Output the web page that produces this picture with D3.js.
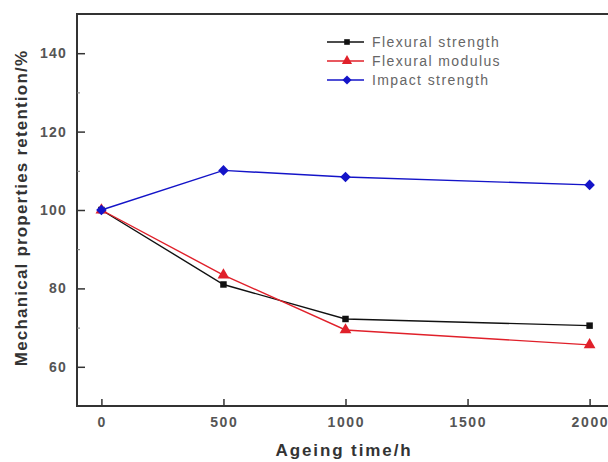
<!DOCTYPE html>
<html><head><meta charset="utf-8">
<script src="https://cdn.jsdelivr.net/npm/d3@7"></script>
<style>body{margin:0;background:#fff}svg{display:block}</style>
</head><body><svg id="c" width="608" height="462"></svg>
<script>
const hours = [0, 500, 1000, 2000];
const flexStrength = [100, 81.0, 72.2, 70.5];
const flexModulus = [100, 83.4, 69.4, 65.6];
const impactStrength = [100, 110.1, 108.4, 106.4];
const seriesNames = ["Flexural strength", "Flexural modulus", "Impact strength"];
const xTicks = [0, 500, 1000, 1500, 2000];
const yTicks = [60, 80, 100, 120, 140];
const yMinor = [70, 90, 110, 130];

const svg = d3.select("#c");
const pL = 77, pT = 14, pB = 406, pR = 614;
const x = d3.scaleLinear().domain([-100, 2100]).range([pL, pR]);
const y = d3.scaleLinear().domain([50, 150]).range([pB, pT]);
const axisCol = "#333";
const font = "Liberation Sans, Arial, sans-serif";

// frame
svg.append("path").attr("d", `M${pR},${pT}H${pL}V${pB}H${pR}`)
  .attr("fill","none").attr("stroke",axisCol).attr("stroke-width",2);

// y ticks
const gy = svg.append("g").attr("transform",`translate(${pL},0)`)
  .call(d3.axisRight(y).tickValues(yTicks).tickSize(8).tickFormat(""));
gy.select(".domain").remove();
gy.selectAll("line").attr("stroke",axisCol).attr("stroke-width",1.5);
const gym = svg.append("g").attr("transform",`translate(${pL},0)`)
  .call(d3.axisRight(y).tickValues(yMinor).tickSize(3).tickFormat(""));
gym.select(".domain").remove();
gym.selectAll("line").attr("stroke","#777").attr("stroke-width",1);
svg.append("g").selectAll("text").data(yTicks).join("text")
  .attr("x", 67).attr("y", d => y(d)).attr("dy","0.36em")
  .attr("text-anchor","end").attr("font-family",font).attr("font-size",14)
  .attr("font-weight","bold").attr("fill","#555").attr("letter-spacing",1.2).text(d=>d);

// x ticks
const gx = svg.append("g").attr("transform",`translate(0,${pB})`)
  .call(d3.axisTop(x).tickValues(xTicks).tickSize(7).tickFormat(""));
gx.select(".domain").remove();
gx.selectAll("line").attr("stroke",axisCol).attr("stroke-width",1.5);
svg.append("g").selectAll("text").data(xTicks).join("text")
  .attr("x", d => x(d)+0.8).attr("y", 427)
  .attr("text-anchor","middle").attr("font-family",font).attr("font-size",14)
  .attr("font-weight","bold").attr("fill","#555").attr("letter-spacing",1.6).text(d=>d);

// axis titles
svg.append("text").attr("x", 344).attr("y", 456).attr("text-anchor","middle")
  .attr("font-family",font).attr("font-size",17).attr("font-weight","bold")
  .attr("fill","#333").attr("letter-spacing",1.9).text("Ageing time/h");
svg.append("text").attr("transform","translate(27,208) rotate(-90)").attr("text-anchor","middle")
  .attr("font-family",font).attr("font-size",17).attr("font-weight","bold")
  .attr("fill","#333").attr("letter-spacing",1.2).text("Mechanical properties retention/%");

const diamond = { draw(ctx, size) { const r = Math.sqrt(size/2); ctx.moveTo(0,-r); ctx.lineTo(r,0); ctx.lineTo(0,r); ctx.lineTo(-r,0); ctx.closePath(); } };
const series = [
  {name: seriesNames[0], vals: flexStrength, color: "#111", sym: d3.symbolSquare, size: 42},
  {name: seriesNames[1], vals: flexModulus, color: "#e0202a", sym: d3.symbolTriangle, size: 60},
  {name: seriesNames[2], vals: impactStrength, color: "#1414c8", sym: diamond, size: 56}
];
const line = d3.line().x((d,i)=>x(hours[i])).y(d=>y(d));
series.forEach(s => {
  svg.append("path").datum(s.vals).attr("d", line).attr("fill","none")
    .attr("stroke", s.color).attr("stroke-width", 1.4);
  svg.append("g").selectAll("path").data(s.vals).join("path")
    .attr("d", d3.symbol(s.sym, s.size))
    .attr("transform", (d,i)=>`translate(${x(hours[i])},${y(d)})`)
    .attr("fill", s.color);
});

// legend
const lg = svg.append("g");
series.forEach((s,i) => {
  const ly = 42 + i*19;
  lg.append("line").attr("x1",327).attr("x2",364).attr("y1",ly).attr("y2",ly)
    .attr("stroke",s.color).attr("stroke-width",1.4);
  lg.append("path").attr("d", d3.symbol(s.sym, s.size*0.75)).attr("transform",`translate(347,${ly})`).attr("fill",s.color);
  lg.append("text").attr("x",372).attr("y",ly).attr("dy","0.36em")
    .attr("font-family",font).attr("font-size",14).attr("fill","#666")
    .attr("letter-spacing",1.4).text(s.name);
});
</script></body></html>
